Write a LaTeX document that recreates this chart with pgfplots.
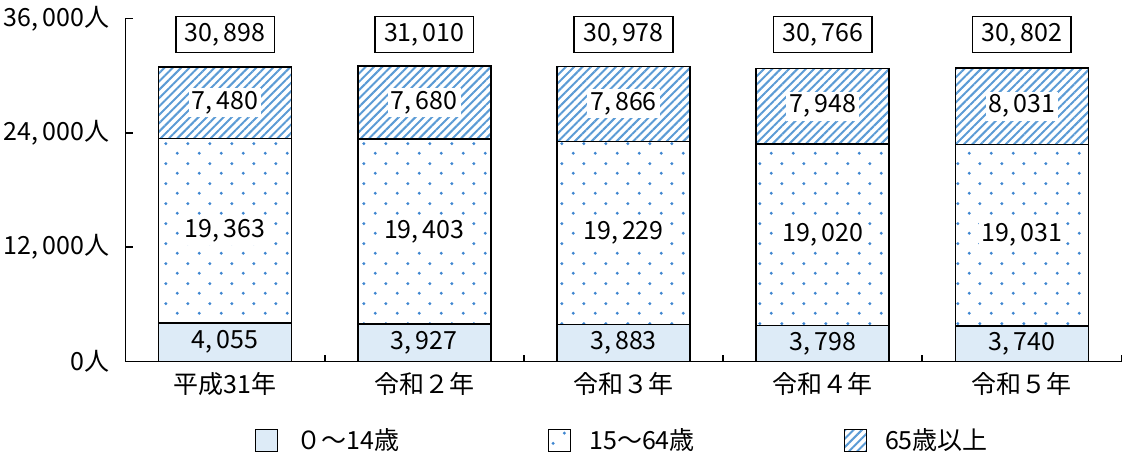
\documentclass[border=0pt]{standalone}
\usepackage{fontspec}
\setmainfont{Noto Sans CJK JP}
\usepackage{pgfplots}
\pgfplotsset{compat=1.18}
\usetikzlibrary{patterns,patterns.meta}
\definecolor{lightfill}{HTML}{DDEBF7}
\definecolor{dotblue}{HTML}{3F86D0}
\definecolor{hatchblue}{HTML}{5B9BD5}
\tikzdeclarepattern{
  name=mydots,
  type=uncolored,
  bounding box={(0,0) and (10.75pt,10pt)},
  tile size={(10.75pt,10pt)},
  code={
    \fill (2.7pt,2.5pt) circle (0.85pt);
    \fill (8.075pt,7.5pt) circle (0.85pt);
  }
}
\pgfplotstableread{
x a b c
0 4055 19363 7480
1 3927 19403 7680
2 3883 19229 7866
3 3798 19020 7948
4 3740 19031 8031
}\datatable
\pgfplotstableread{
x y t
0 34320 30898
1 34320 31010
2 34320 30978
3 34320 30766
4 34320 30802
}\totaltable
\begin{document}
\begin{tikzpicture}[font=\fontsize{12.5pt}{15pt}\selectfont]
\pgfplotsset{
  base/.style={
    scale only axis,
    width=498pt, height=171.5pt,
    xmin=-0.5, xmax=4.5, ymin=0, ymax=36000,
    scaled ticks=false,
    /pgf/number format/.cd, 1000 sep={,\,}, assume math mode=true, /pgfplots/.cd,
  }
}
\begin{axis}[
  base,
  ybar stacked,
  bar width=66.5pt,
  axis x line=bottom, axis y line=left,
  axis line style={line width=0.9pt,-},
  tick align=inside,
  xtick={0,1,2,3,4},
  xticklabels={平成31年,令和２年,令和３年,令和４年,令和５年},
  minor xtick={0.5,1.5,2.5,3.5,4.5},
  every major x tick/.append style={draw=none},
  minor tick length=3pt,
  major tick length=4pt,
  tick style={line width=0.9pt,black},
  ytick={0,12000,24000,36000},
  yticklabels={0人,{12,\,000人},{24,\,000人},{36,\,000人}},
  yticklabel style={xshift=-4.5pt},
  xticklabel style={yshift=-2pt},
  point meta=rawy,
  nodes near coords={\pgfmathprintnumber{\pgfplotspointmeta}},
  every node near coord/.style={anchor=center, text=black, inner sep=1.5pt},
  legend style={at={(0.5,-0.2303)}, anchor=center, draw=none, legend columns=3,
    /tikz/every odd column/.append style={column sep=7pt},
    /tikz/every even column/.append style={column sep=72.5pt},
    font=\fontsize{12.5pt}{15pt}\selectfont},
  legend image code/.code={\draw[#1,line width=0.6pt] (0pt,-5.5pt) rectangle (11pt,5.5pt);},
]
\addplot[draw=black, line width=0.75pt, fill=lightfill] table[x=x,y=a] {\datatable};
\addplot[draw=black, line width=0.75pt, pattern=mydots, pattern color=dotblue,
  every node near coord/.append style={fill=white}] table[x=x,y=b] {\datatable};
\addplot[draw=black, line width=0.75pt, pattern={Lines[angle=45,distance=2.95pt,line width=1pt]}, pattern color=hatchblue,
  every node near coord/.append style={fill=white}] table[x=x,y=c] {\datatable};
\legend{０～14歳,15～64歳,65歳以上}
\end{axis}
\begin{axis}[
  base,
  hide axis,
  point meta=explicit,
  nodes near coords={\pgfmathprintnumber{\pgfplotspointmeta}},
  every node near coord/.style={anchor=center, draw=black, line width=0.8pt, fill=white,
    text=black, minimum height=16pt, inner xsep=4.5pt},
]
\addplot[draw=none, mark=none] table[x=x,y=y,meta=t] {\totaltable};
\end{axis}
\pgfresetboundingbox
\path ([xshift=-62.75pt,yshift=-48pt]current axis.south west) rectangle ([xshift=0.25pt,yshift=9.25pt]current axis.north east);
\end{tikzpicture}
\end{document}
